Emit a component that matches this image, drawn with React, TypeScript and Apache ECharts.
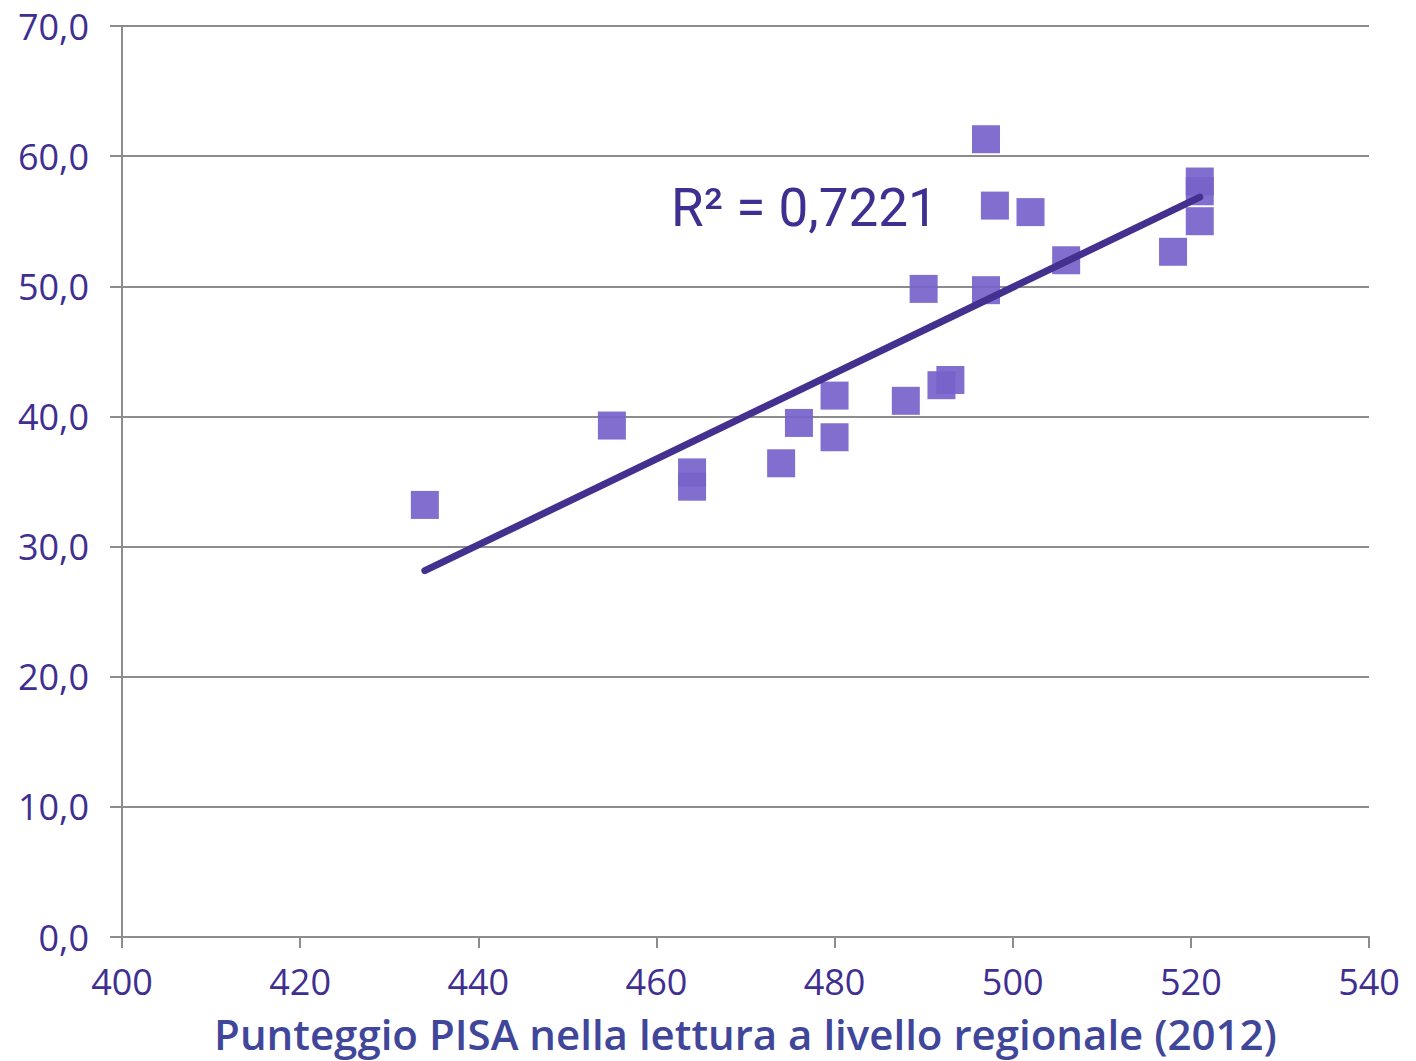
import React, { useEffect, useRef } from "react";
import * as echarts from "echarts";

const pisaScores = [434, 455, 464, 464, 474, 476, 480, 480, 488, 490, 492, 493, 497, 497, 498, 502, 506, 518, 521, 521, 521];
const outcomeValues = [33.2, 39.3, 35.7, 34.6, 36.4, 39.5, 41.6, 38.4, 41.2, 49.8, 42.4, 42.8, 61.3, 49.7, 56.2, 55.7, 52.0, 52.65, 58.05, 57.3, 55.0];
const xTicks = [400, 420, 440, 460, 480, 500, 520, 540];
const yTicks = [0, 10, 20, 30, 40, 50, 60, 70];
const r2Label = "R² = 0,7221";
const xTitle = "Punteggio PISA nella lettura a livello regionale (2012)";

function regression(xs: number[], ys: number[]) {
  const n = xs.length;
  const mx = xs.reduce((a, b) => a + b, 0) / n;
  const my = ys.reduce((a, b) => a + b, 0) / n;
  let sxy = 0, sxx = 0;
  for (let i = 0; i < n; i++) {
    sxy += (xs[i] - mx) * (ys[i] - my);
    sxx += (xs[i] - mx) * (xs[i] - mx);
  }
  const b = sxy / sxx;
  return { a: my - b * mx, b };
}

export default function App() {
  const ref = useRef<HTMLDivElement>(null);
  useEffect(() => {
    if (!ref.current) return;
    const chart = echarts.init(ref.current, undefined, { renderer: "svg" });
    const pts = pisaScores.map((x, i) => [x, outcomeValues[i]]);
    const { a, b } = regression(pisaScores, outcomeValues);
    const xmin = Math.min(...pisaScores);
    const xmax = Math.max(...pisaScores);
    const trend = [[xmin, a + b * xmin], [xmax, a + b * xmax]];
    const font = "'Open Sans', 'Noto Sans', sans-serif";
    const labelColor = "#3f2f90";
    chart.setOption({
      animation: false,
      backgroundColor: "#ffffff",
      grid: { left: 122, right: 47, top: 26, bottom: 124, containLabel: false },
      xAxis: {
        type: "value",
        min: xTicks[0],
        max: xTicks[xTicks.length - 1],
        interval: 20,
        name: xTitle,
        nameLocation: "middle",
        nameGap: 75,
        nameTextStyle: { fontFamily: font, fontSize: 42, fontWeight: 600, color: "#404699" },
        axisLine: { show: true, lineStyle: { color: "#8c8c8c", width: 2 } },
        axisTick: { show: true, length: 11, lineStyle: { color: "#8c8c8c", width: 2 } },
        axisLabel: { fontFamily: font, fontSize: 36, color: labelColor, margin: 26 },
        splitLine: { show: false },
      },
      yAxis: {
        type: "value",
        min: yTicks[0],
        max: yTicks[yTicks.length - 1],
        interval: 10,
        axisLine: { show: true, lineStyle: { color: "#8c8c8c", width: 2 } },
        axisTick: { show: true, length: 12, lineStyle: { color: "#8c8c8c", width: 2 } },
        axisLabel: {
          fontFamily: font,
          fontSize: 36,
          color: labelColor,
          margin: 33,
          formatter: (v: number) => v.toFixed(1).replace(".", ","),
        },
        splitLine: { show: true, lineStyle: { color: "#8c8c8c", width: 2 } },
      },
      series: [
        {
          type: "scatter",
          data: pts,
          symbol: "rect",
          symbolSize: 28,
          itemStyle: { color: "#7762cb", opacity: 0.92 },
          z: 2,
        },
        {
          type: "line",
          data: trend,
          showSymbol: false,
          symbol: "none",
          lineStyle: { color: "#44308f", width: 7, cap: "round" },
          z: 3,
        },
      ],
      graphic: [
        {
          type: "text",
          left: 671,
          top: 181,
          style: {
            text: r2Label,
            fontFamily: "Roboto, sans-serif",
            fontSize: 53,
            fill: "#3f2f90",
          },
        },
      ],
    });
    return () => chart.dispose();
  }, []);
  return <div ref={ref} style={{ width: 1416, height: 1061, position: "absolute", left: 0, top: 0 }} />;
}
